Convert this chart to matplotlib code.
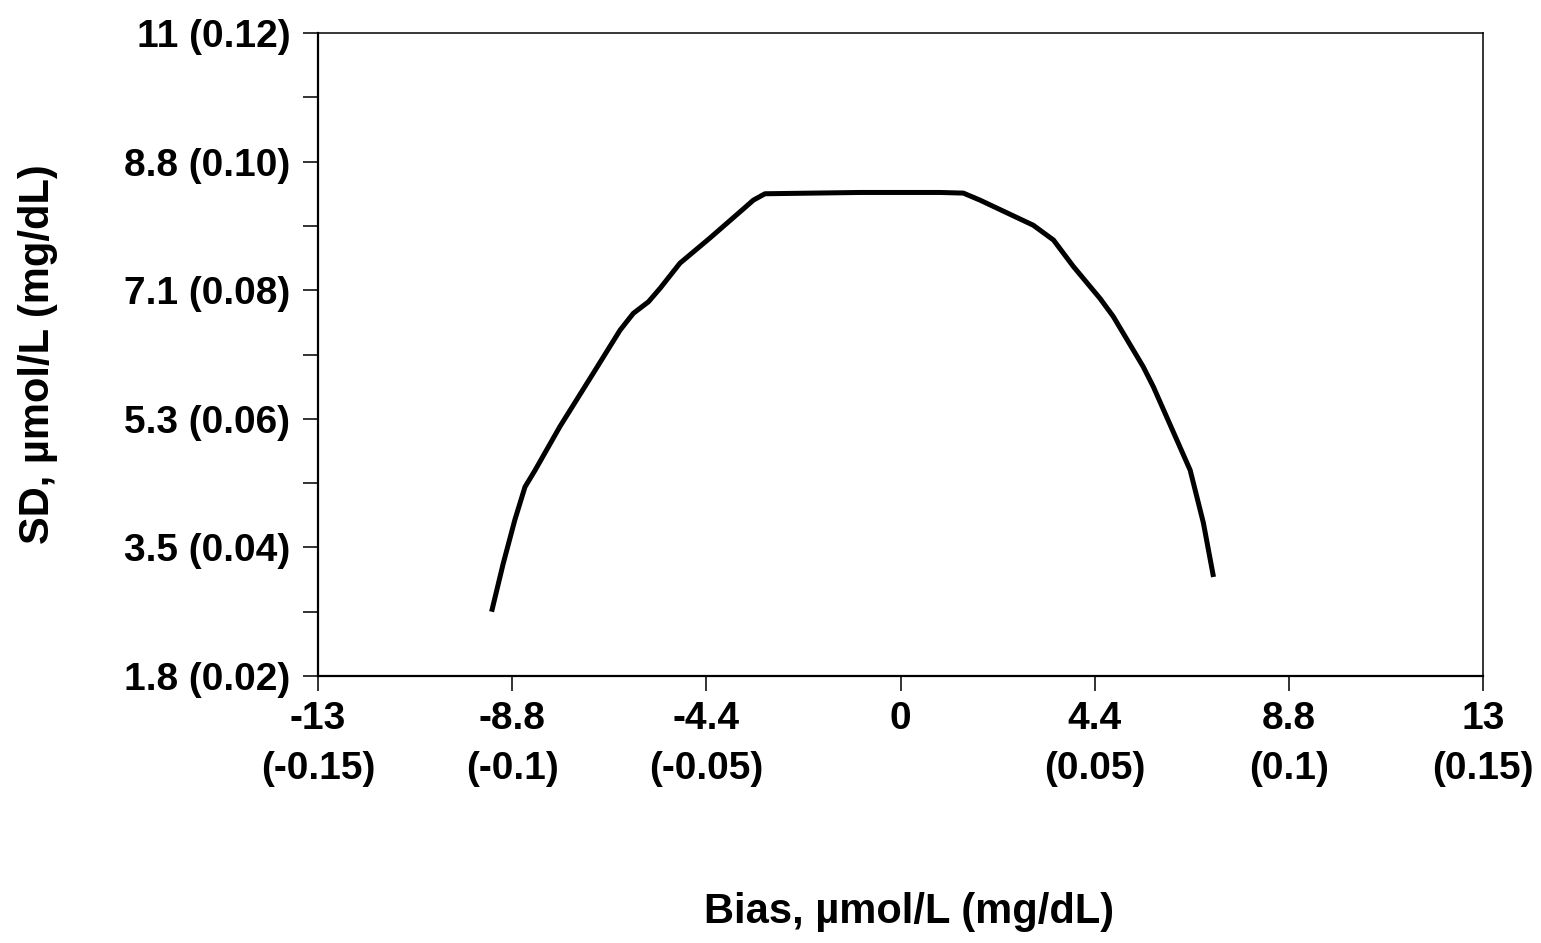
import matplotlib
matplotlib.use('Agg')
import matplotlib.pyplot as plt
from matplotlib.ticker import MultipleLocator

plt.rcParams['font.family'] = ['Liberation Sans', 'DejaVu Sans']
plt.rcParams['font.weight'] = 'bold'

# Curve, in mg/dL (bias, SD)
bias_mg = [-0.1053, -0.1023, -0.0993, -0.0967, -0.0941, -0.0877, -0.0791,
           -0.0722, -0.0688, -0.0649, -0.0619, -0.0568, -0.0491, -0.0413,
           -0.0379, -0.0349, -0.0104, 0.0102, 0.0162, 0.0205, 0.0342,
           0.0394, 0.0445, 0.0514, 0.0548, 0.0625, 0.0651, 0.0746,
           0.0780, 0.0806]
sd_mg = [0.0300, 0.0375, 0.0443, 0.0494, 0.0520, 0.0588, 0.0671,
         0.0738, 0.0764, 0.0782, 0.0803, 0.0842, 0.0881, 0.0922,
         0.0940, 0.0950, 0.0952, 0.0952, 0.0951, 0.0940, 0.0901,
         0.0878, 0.0837, 0.0787, 0.0759, 0.0681, 0.0650, 0.0520,
         0.0438, 0.0354]

# Axis ticks: mg/dL positions with umol/L labels
x_ticks = [-0.15, -0.10, -0.05, 0.0, 0.05, 0.10, 0.15]
x_labels = ['-13\n(-0.15)', '-8.8\n(-0.1)', '-4.4\n(-0.05)', '0',
            '4.4\n(0.05)', '8.8\n(0.1)', '13\n(0.15)']
y_ticks = [0.02, 0.04, 0.06, 0.08, 0.10, 0.12]
y_labels = ['1.8 (0.02)', '3.5 (0.04)', '5.3 (0.06)', '7.1 (0.08)',
            '8.8 (0.10)', '11 (0.12)']

fig = plt.figure(figsize=(15.41, 9.43), dpi=100)
ax = fig.add_axes([318 / 1541, 1 - 676 / 943, 1165 / 1541, 643 / 943])

ax.plot(bias_mg, sd_mg, color='black', linewidth=3.6,
        solid_joinstyle='round', solid_capstyle='butt')

ax.set_xlim(-0.15, 0.15)
ax.set_ylim(0.02, 0.12)

ax.set_xticks(x_ticks)
ax.set_xticklabels(x_labels, fontsize=28, fontweight='bold',
                   linespacing=1.5)
ax.set_yticks(y_ticks)
ax.set_yticklabels(y_labels, fontsize=28, fontweight='bold')
ax.yaxis.set_minor_locator(MultipleLocator(0.01))

ax.tick_params(axis='both', which='both', direction='out', length=11,
               width=1.4, color='#333333')
ax.tick_params(axis='x', pad=7)
ax.tick_params(axis='y', pad=9)

ax.spines['left'].set_linewidth(1.6)
ax.spines['bottom'].set_linewidth(1.6)
ax.spines['top'].set_linewidth(1.1)
ax.spines['right'].set_linewidth(1.1)

ax.set_xlabel('Bias, µmol/L (mg/dL)', fontsize=30, fontweight='bold')
ax.xaxis.label.set_va('center')
ax.xaxis.set_label_coords(0.507, (676 - 912) / 643)

ax.set_ylabel('SD, µmol/L (mg/dL)', fontsize=30, fontweight='bold')
ax.yaxis.label.set_va('center')
ax.yaxis.label.set_ha('center')
ax.yaxis.set_label_coords((38 - 318) / 1165, 0.5)

fig.savefig('out.png', dpi=100, facecolor='white')
